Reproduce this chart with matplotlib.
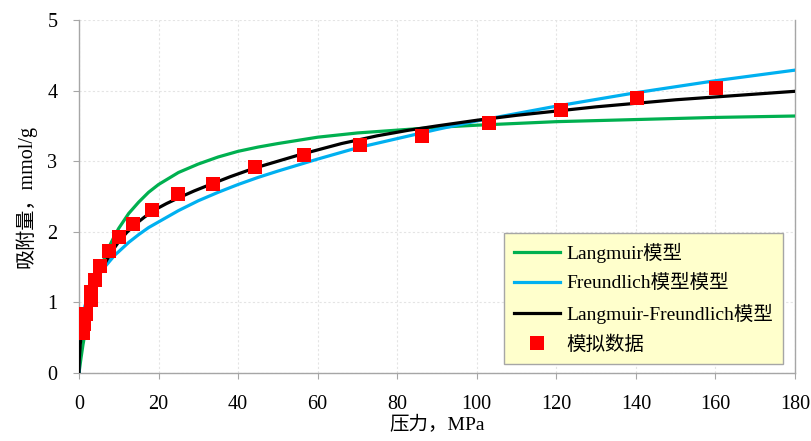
import matplotlib
matplotlib.use("Agg")
import matplotlib.pyplot as plt

# ---- data ----
data_p = [0.93, 1.26, 1.68, 2.9, 3.0, 4.0, 5.4, 7.5, 10.0, 13.5, 18.4, 25.0, 33.6,
          44.2, 56.6, 70.6, 86.3, 103.1, 121.1, 140.2, 160.1]
data_q = [0.56, 0.70, 0.83, 1.03, 1.15, 1.32, 1.52, 1.73, 1.92, 2.11, 2.31, 2.53, 2.67,
          2.92, 3.09, 3.23, 3.36, 3.54, 3.73, 3.89, 4.03]

lang_p = [0, 0.5, 1, 2, 3, 4, 5, 6, 7.5, 9, 10, 12.5, 15, 17.5, 20, 25, 30, 35, 40, 45,
          50, 60, 70, 80, 90, 100, 120, 140, 160, 180]
lang_q = [0, 0.21, 0.40, 0.72, 0.99, 1.21, 1.40, 1.57, 1.78, 1.95, 2.05, 2.26, 2.42, 2.56,
          2.67, 2.84, 2.96, 3.06, 3.14, 3.20, 3.25, 3.34, 3.40, 3.44, 3.48, 3.51, 3.56,
          3.59, 3.62, 3.64]

freu_p = [0, 0.05, 0.1, 0.3, 0.6, 1, 1.5, 2, 3, 4, 5, 6, 7.5, 9, 10, 12.5, 15, 17.5, 20,
          25, 30, 35, 40, 45, 50, 60, 70, 80, 90, 100, 120, 140, 160, 180]
freu_q = [0, 0.32, 0.40, 0.57, 0.71, 0.83, 0.95, 1.04, 1.18, 1.29, 1.38, 1.47, 1.57, 1.67,
          1.72, 1.85, 1.96, 2.06, 2.14, 2.30, 2.44, 2.56, 2.67, 2.77, 2.86, 3.03, 3.19,
          3.32, 3.45, 3.57, 3.78, 3.97, 4.14, 4.29]

lf_p = [0, 0.05, 0.1, 0.3, 0.6, 1, 1.5, 2, 3, 4, 5, 6, 7, 8.5, 10, 12, 14, 16.5, 19, 22,
        25, 29, 33, 38, 44, 50, 56, 66, 75, 83, 90, 100, 110, 120, 130, 140, 150, 160,
        170, 180]
lf_q = [0, 0.15, 0.22, 0.40, 0.55, 0.68, 0.82, 0.93, 1.12, 1.27, 1.39, 1.50, 1.60, 1.74,
        1.86, 1.99, 2.10, 2.21, 2.31, 2.40, 2.48, 2.58, 2.67, 2.78, 2.90, 3.00, 3.10,
        3.25, 3.36, 3.44, 3.50, 3.58, 3.65, 3.71, 3.77, 3.82, 3.87, 3.91, 3.95, 3.99]

x_ticks = [0, 20, 40, 60, 80, 100, 120, 140, 160, 180]
y_ticks = [0, 1, 2, 3, 4, 5]

labels = ["Langmuir模型", "Freundlich模型模型", "Langmuir-Freundlich模型", "模拟数据"]
xlabel = "压力，MPa"
ylabel = "吸附量，mmol/g"

fams = ["Liberation Serif", "Noto Sans CJK SC", "DejaVu Sans"]
plt.rcParams["font.family"] = fams

fig = plt.figure(figsize=(8.11, 4.41), dpi=100)
ax = fig.add_axes([79/811, 1-373/441, (795-79)/811, (373-20)/441])

ax.plot(lang_p, lang_q, color="#00B050", lw=2.3, label=labels[0], zorder=3,
        solid_joinstyle="round")
ax.plot(freu_p, freu_q, color="#00B0F0", lw=2.3, label=labels[1], zorder=3,
        solid_joinstyle="round")
ax.plot(lf_p, lf_q, color="black", lw=2.3, label=labels[2], zorder=4,
        solid_joinstyle="round")
ax.plot(data_p, data_q, linestyle="none", marker="s", ms=9.5, color="#FF0000",
        markeredgewidth=0, label=labels[3], zorder=5)

ax.set_xlim(0, 180)
ax.set_ylim(0, 5)
ax.set_xticks(x_ticks)
ax.set_yticks(y_ticks)
ax.grid(True, color="#E4E4E4", linestyle=(0, (2, 2)), linewidth=0.8)
ax.set_axisbelow(True)

for s in ["left", "bottom", "right"]:
    ax.spines[s].set_color("#A6A6A6")
    ax.spines[s].set_linewidth(1.0)
ax.spines["top"].set_visible(False)
ax.tick_params(axis="both", direction="out", length=4.5, color="#A6A6A6",
               labelsize=14.5)
ax.tick_params(axis="x", pad=11)
ax.tick_params(axis="y", pad=11)

ax.set_xlabel(xlabel, fontsize=14, labelpad=2)
ax.set_ylabel(ylabel, fontsize=14.5, labelpad=8)

leg = ax.legend(loc="lower right", bbox_to_anchor=(0.983, 0.0255), borderaxespad=0,
                fontsize=14, frameon=True, fancybox=False, handlelength=2.4,
                handletextpad=0.3, labelspacing=0.6, borderpad=0.5)
frame = leg.get_frame()
frame.set_facecolor("#FFFFCC")
frame.set_edgecolor("#A6A6A6")
frame.set_linewidth(1.0)
frame.set_alpha(1)

fig.savefig("out.png", dpi=100)
